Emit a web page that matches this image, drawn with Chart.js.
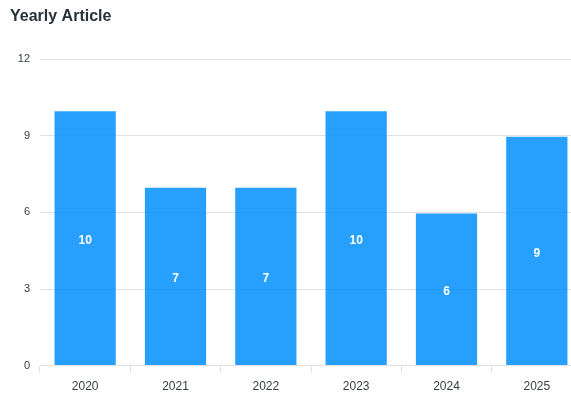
<!DOCTYPE html>
<html>
<head>
<meta charset="utf-8">
<script src="https://cdn.jsdelivr.net/npm/chart.js@4"></script>
<style>
  html, body { margin: 0; padding: 0; background: #fff; overflow: hidden; }
  #wrap { width: 582px; height: 393px; position: relative; }
</style>
</head>
<body>
<div id="wrap"><canvas id="yearChart"></canvas></div>
<script>
const years = ["2020", "2021", "2022", "2023", "2024", "2025"];
const articles = [10, 7, 7, 10, 6, 9];
const yTicks = [0, 3, 6, 9, 12];

const FONT = "Helvetica, Arial, 'Liberation Sans', sans-serif";

// value labels in the middle of each bar
const barLabels = {
  id: "barLabels",
  afterDatasetsDraw(chart) {
    const ctx = chart.ctx;
    const meta = chart.getDatasetMeta(0);
    ctx.save();
    ctx.font = "bold 12px " + FONT;
    ctx.fillStyle = "#ffffff";
    ctx.textAlign = "center";
    ctx.textBaseline = "middle";
    meta.data.forEach((bar, i) => {
      const mid = (bar.y + bar.base) / 2;
      ctx.fillText(String(articles[i]), bar.x, mid + 3);
    });
    ctx.restore();
  }
};

const ctx = document.getElementById("yearChart").getContext("2d");
new Chart(ctx, {
  type: "bar",
  data: {
    labels: years,
    datasets: [{
      label: "Articles",
      data: articles,
      backgroundColor: "rgba(0, 143, 251, 0.85)",
      borderColor: "rgba(255, 255, 255, 0.25)",
      borderWidth: 1,
      barPercentage: 0.7,
      categoryPercentage: 1
    }]
  },
  options: {
    responsive: true,
    maintainAspectRatio: false,
    animation: false,
    layout: { padding: { left: 10, top: 0, right: 0, bottom: -8 } },
    scales: {
      y: {
        min: 0,
        max: 12,
        afterFit(scale) { scale.width = 30; },
        afterBuildTicks(scale) { scale.ticks = yTicks.map(v => ({ value: v })); },
        border: { display: false },
        grid: { color: "#e0e0e0", drawTicks: false },
        ticks: { color: "#373d3f", font: { family: FONT, size: 11 }, padding: 10 }
      },
      x: {
        border: { display: true, color: "#e0e0e0" },
        grid: { drawOnChartArea: false, drawTicks: true, tickLength: 7, color: "#e0e0e0", offset: true },
        ticks: { color: "#373d3f", font: { family: FONT, size: 12 }, padding: 7 }
      }
    },
    plugins: {
      legend: { display: false },
      tooltip: { enabled: false },
      title: {
        display: true,
        text: "Yearly Article",
        align: "start",
        color: "#263238",
        font: { family: FONT, size: 16, weight: "bold" },
        padding: { top: 7, bottom: 33 }
      }
    }
  },
  plugins: [barLabels]
});
</script>
</body>
</html>
